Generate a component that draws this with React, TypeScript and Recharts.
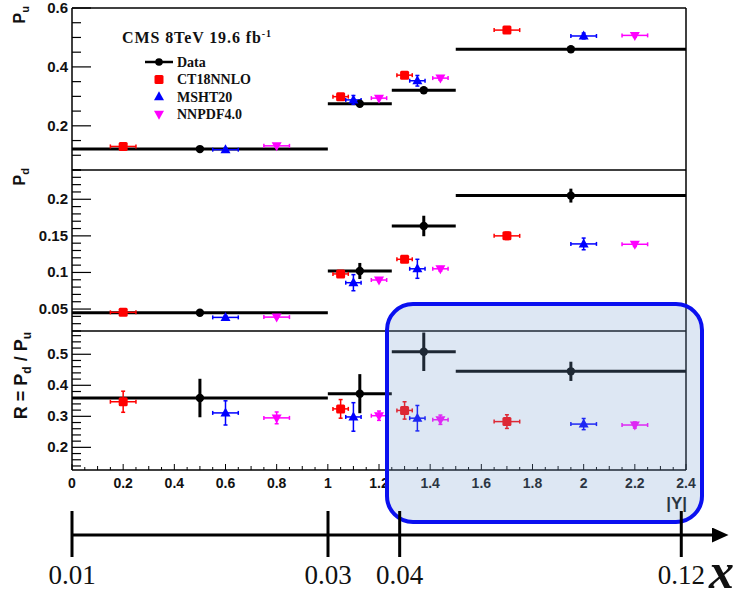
import React from 'react';
import {
  ScatterChart, Scatter, ComposedChart, XAxis, YAxis, ErrorBar,
  ReferenceLine, Legend,
} from 'recharts';

// |Y| bins of the measurement (centre, half width)
const binCenters = [0.5, 1.125, 1.375, 1.95];
const binHalfWidths = [0.5, 0.125, 0.125, 0.45];

// theory predictions are drawn side by side inside each bin
const ct18X = [0.2, 1.05, 1.3, 1.7];
const mshtX = [0.6, 1.1, 1.35, 2.0];
const nnpdfX = [0.8, 1.2, 1.44, 2.2];
const theoryHalfWidths = [0.05, 0.03, 0.03, 0.05];

// P_u
const puData = [0.121, 0.275, 0.321, 0.46];
const puDataErr = [0.003, 0.004, 0.004, 0.005];
const puCt18 = [0.13, 0.299, 0.372, 0.525];
const puCt18Err = [0.004, 0.006, 0.006, 0.007];
const puMsht = [0.119, 0.288, 0.353, 0.505];
const puMshtErr = [0.005, 0.015, 0.018, 0.01];
const puNnpdf = [0.132, 0.294, 0.362, 0.507];
const puNnpdfErr = [0.004, 0.005, 0.007, 0.006];

// P_d
const pdData = [0.045, 0.102, 0.1635, 0.205];
const pdDataErr = [0.0015, 0.011, 0.014, 0.0095];
const pdCt18 = [0.0455, 0.098, 0.118, 0.15];
const pdCt18Err = [0.002, 0.003, 0.004, 0.005];
const pdMsht = [0.0386, 0.086, 0.105, 0.139];
const pdMshtErr = [0.002, 0.011, 0.013, 0.008];
const pdNnpdf = [0.039, 0.0897, 0.105, 0.1385];
const pdNnpdfErr = [0.0015, 0.002, 0.003, 0.003];

// R = P_d / P_u
const rData = [0.359, 0.373, 0.508, 0.445];
const rDataErr = [0.062, 0.063, 0.062, 0.031];
const rCt18 = [0.347, 0.324, 0.319, 0.283];
const rCt18Err = [0.034, 0.03, 0.028, 0.022];
const rMsht = [0.311, 0.298, 0.294, 0.275];
const rMshtErr = [0.039, 0.046, 0.041, 0.018];
const rNnpdf = [0.295, 0.302, 0.289, 0.272];
const rNnpdfErr = [0.019, 0.015, 0.015, 0.01];

const seriesNames = ['Data', 'CT18NNLO', 'MSHT20', 'NNPDF4.0'];

// axis ticks
const xMajor = [0, 0.2, 0.4, 0.6, 0.8, 1, 1.2, 1.4, 1.6, 1.8, 2, 2.2, 2.4];
const puMajor = [0.2, 0.4, 0.6];
const pdMajor = [0.05, 0.1, 0.15, 0.2];
const rMajor = [0.2, 0.3, 0.4, 0.5];

// parton momentum fraction axis under the plot
const xFracLabels = ['0.01', '0.03', '0.04', '0.12'];
const xFracPos = [0, 1, 1.28, 2.38];

const SANS = '"Liberation Sans", Arial, Helvetica, sans-serif';
const SERIF = '"Liberation Serif", "Times New Roman", serif';

const range = (a: number, b: number, s: number) =>
  Array.from({ length: Math.round((b - a) / s) + 1 }, (_, i) => +(a + i * s).toFixed(3));
const onStep = (v: number, s: number) => Math.abs(v / s - Math.round(v / s)) < 1e-6;
const fmt = (v: number) => String(parseFloat(v.toFixed(3)));

const xTicks = range(0, 2.4, 0.05);
const puTicks = range(0.05, 0.6, 0.05);
const pdTicks = range(0.02, 0.24, 0.01);
const rTicks = range(0.14, 0.56, 0.02);

type Pt = { x: number; y: number; ex: number; ey: number };
const rows = (xs: number[], ys: number[], exs: number[], eys: number[]): Pt[] =>
  xs.map((x, i) => ({ x, y: ys[i], ex: exs[i], ey: eys[i] }));

const panels = {
  pu: {
    data: rows(binCenters, puData, binHalfWidths, puDataErr),
    ct18: rows(ct18X, puCt18, theoryHalfWidths, puCt18Err),
    msht: rows(mshtX, puMsht, theoryHalfWidths, puMshtErr),
    nnpdf: rows(nnpdfX, puNnpdf, theoryHalfWidths, puNnpdfErr),
  },
  pd: {
    data: rows(binCenters, pdData, binHalfWidths, pdDataErr),
    ct18: rows(ct18X, pdCt18, theoryHalfWidths, pdCt18Err),
    msht: rows(mshtX, pdMsht, theoryHalfWidths, pdMshtErr),
    nnpdf: rows(nnpdfX, pdNnpdf, theoryHalfWidths, pdNnpdfErr),
  },
  r: {
    data: rows(binCenters, rData, binHalfWidths, rDataErr),
    ct18: rows(ct18X, rCt18, theoryHalfWidths, rCt18Err),
    msht: rows(mshtX, rMsht, theoryHalfWidths, rMshtErr),
    nnpdf: rows(nnpdfX, rNnpdf, theoryHalfWidths, rNnpdfErr),
  },
};

const RED = '#ff0000';
const BLUE = '#0000ff';
const MAGENTA = '#ff00ff';

const dot = (p: any) => <circle cx={p.cx} cy={p.cy} r={4.2} fill="#000" />;
const square = (p: any) => (
  <rect x={p.cx - 4.5} y={p.cy - 4.5} width={9} height={9} rx={1.5} fill={RED} />
);
const triUp = (p: any) => (
  <path d={`M${p.cx},${p.cy - 5.5}L${p.cx + 5},${p.cy + 3.5}L${p.cx - 5},${p.cy + 3.5}Z`} fill={BLUE} />
);
const triDown = (p: any) => (
  <path d={`M${p.cx},${p.cy + 5.5}L${p.cx + 5},${p.cy - 3.5}L${p.cx - 5},${p.cy - 3.5}Z`} fill={MAGENTA} />
);

const axisLine = { stroke: '#000', strokeWidth: 1.5 };

function XTick(props: any) {
  const { x, y, payload, labelled } = props;
  const v = payload.value;
  const len = onStep(v, 0.2) ? 6 : onStep(v, 0.1) ? 4 : 3;
  return (
    <g>
      <line x1={x} x2={x} y1={y} y2={y - len} stroke="#000" strokeWidth={1} />
      {labelled && xMajor.some((m) => Math.abs(m - v) < 1e-6) && (
        <text x={x} y={y + 18} textAnchor="middle" fontFamily={SANS} fontWeight="bold" fontSize={14} fill="#111">
          {fmt(v)}
        </text>
      )}
    </g>
  );
}

function YTick(props: any) {
  const { x, y, payload, majors } = props;
  const v = payload.value;
  const major = majors.some((m: number) => Math.abs(m - v) < 1e-6);
  return (
    <g>
      <line x1={x} x2={x + (major ? 19 : 9)} y1={y} y2={y} stroke="#000" strokeWidth={1.2} />
      {major && (
        <text x={x - 4} y={y + 5} textAnchor="end" fontFamily={SANS} fontWeight="bold" fontSize={15} fill="#111">
          {fmt(v)}
        </text>
      )}
    </g>
  );
}

function RotTitle(props: any) {
  const { px, py, size, children } = props;
  return (
    <text
      transform={`translate(${px},${py}) rotate(-90)`}
      textAnchor="end"
      fontFamily={SANS}
      fontWeight="bold"
      fontSize={size}
      fill="#111"
    >
      {children}
    </text>
  );
}

function FlatText(props: any) {
  const { px, py, size, family, weight, italic, anchor, children } = props;
  return (
    <text x={px} y={py} textAnchor={anchor || 'end'} fontFamily={family} fontWeight={weight}
      fontStyle={italic ? 'italic' : 'normal'} fontSize={size} fill="#111">
      {children}
    </text>
  );
}

const legendMarks: Record<string, (cx: number, cy: number) => React.ReactNode> = {
  Data: (cx, cy) => (
    <g>
      <line x1={cx - 14} x2={cx + 14} y1={cy} y2={cy} stroke="#000" strokeWidth={2.5} />
      <circle cx={cx} cy={cy} r={3.8} fill="#000" />
    </g>
  ),
  CT18NNLO: (cx, cy) => square({ cx, cy }),
  MSHT20: (cx, cy) => triUp({ cx, cy }),
  'NNPDF4.0': (cx, cy) => triDown({ cx, cy }),
};

function LegendBox(props: any) {
  const items = [...(props.payload || [])].sort(
    (a: any, b: any) => seriesNames.indexOf(a.value) - seriesNames.indexOf(b.value),
  );
  return (
    <svg width={200} height={100}>
      <text x={22} y={18} fontFamily={SERIF} fontWeight="bold" fontSize={16} letterSpacing={0.9} fill="#111">
        CMS 8TeV 19.6 fb<tspan dy={-6} fontSize={10}>-1</tspan>
      </text>
      {items.map((it: any, i: number) => {
        const cy = 37 + i * 17.4;
        const mark = legendMarks[it.value];
        return (
          <g key={it.value}>
            {mark && mark(59, cy)}
            <text x={77} y={cy + 5} fontFamily={SERIF} fontWeight="bold" fontSize={14} fill="#111">
              {it.value}
            </text>
          </g>
        );
      })}
    </svg>
  );
}

function Panel(props: any) {
  const { top, height, mt, mb, xh, domain, yTicks, yMajors, set, title, labelled, legend, xTitle } = props;
  return (
    <div style={{ position: 'absolute', left: 0, top }}>
      <ScatterChart width={741} height={height} margin={{ top: mt, right: 55, bottom: mb, left: 12 }}>
        <XAxis
          type="number" dataKey="x" domain={[0, 2.4]} ticks={xTicks} interval={0}
          height={xh} tickSize={0} tickMargin={0} tickLine={false}
          tick={<XTick labelled={labelled} />} axisLine={axisLine} allowDataOverflow
          label={xTitle}
        />
        <YAxis
          type="number" dataKey="y" domain={domain} ticks={yTicks} interval={0}
          width={60} tickSize={0} tickMargin={0} tickLine={false}
          tick={<YTick majors={yMajors} />} axisLine={axisLine} allowDataOverflow
          label={title}
        />
        <ReferenceLine x={2.4} stroke="#000" strokeWidth={1.5} />
        <ReferenceLine y={domain[1]} stroke="#000" strokeWidth={1.5} />
        {legend && (
          <Legend
            layout="horizontal" verticalAlign="middle" align="center"
            content={LegendBox}
            wrapperStyle={{ left: 100, top: 25, width: 200, height: 100 }}
          />
        )}
        <Scatter name={seriesNames[0]} data={set.data} fill="#000" shape={dot} isAnimationActive={false}>
          <ErrorBar dataKey="ex" direction="x" width={0} stroke="#000" strokeWidth={3} />
          <ErrorBar dataKey="ey" direction="y" width={0} stroke="#000" strokeWidth={3} />
        </Scatter>
        <Scatter name={seriesNames[1]} data={set.ct18} fill={RED} shape={square} isAnimationActive={false}>
          <ErrorBar dataKey="ex" direction="x" width={2} stroke={RED} strokeWidth={1.5} />
          <ErrorBar dataKey="ey" direction="y" width={2} stroke={RED} strokeWidth={1.5} />
        </Scatter>
        <Scatter name={seriesNames[2]} data={set.msht} fill={BLUE} shape={triUp} isAnimationActive={false}>
          <ErrorBar dataKey="ex" direction="x" width={2} stroke={BLUE} strokeWidth={1.5} />
          <ErrorBar dataKey="ey" direction="y" width={2} stroke={BLUE} strokeWidth={1.5} />
        </Scatter>
        <Scatter name={seriesNames[3]} data={set.nnpdf} fill={MAGENTA} shape={triDown} isAnimationActive={false}>
          <ErrorBar dataKey="ex" direction="x" width={2} stroke={MAGENTA} strokeWidth={1.5} />
          <ErrorBar dataKey="ey" direction="y" width={2} stroke={MAGENTA} strokeWidth={1.5} />
        </Scatter>
      </ScatterChart>
    </div>
  );
}

function FracTick(props: any) {
  const { x, y, index } = props;
  return (
    <g>
      <line x1={x} x2={x} y1={y - 24} y2={y + 22} stroke="#000" strokeWidth={3} />
      <text x={x} y={y + 49} textAnchor="middle" fontFamily={SERIF} fontSize={27} fill="#111">
        {xFracLabels[index]}
      </text>
    </g>
  );
}

const fracRows = xFracPos.map((pos, i) => ({ pos, label: xFracLabels[i] }));

export default function App() {
  return (
    <div style={{ position: 'absolute', left: 0, top: 0, width: 741, height: 598, background: '#fff', overflow: 'hidden' }}>
      <Panel
        top={0} height={172} mt={8} mb={2} xh={0}
        domain={[0.05, 0.6]} yTicks={puTicks} yMajors={puMajor} set={panels.pu} legend
        title={<RotTitle px={25} py={6} size={16}>P<tspan dy={4} fontSize={11}>u</tspan></RotTitle>}
      />
      <Panel
        top={160} height={175} mt={10} mb={4} xh={0}
        domain={[0.02, 0.24]} yTicks={pdTicks} yMajors={pdMajor} set={panels.pd}
        title={<RotTitle px={25} py={8} size={16}>P<tspan dy={4} fontSize={11}>d</tspan></RotTitle>}
      />
      <Panel
        top={321} height={200} mt={10} mb={21} xh={30}
        domain={[0.127, 0.575]} yTicks={rTicks} yMajors={rMajor} set={panels.r} labelled
        title={
          <RotTitle px={27} py={11} size={18}>
            R = P<tspan dy={4} fontSize={12}>d</tspan><tspan dy={-4}> / P</tspan><tspan dy={4} fontSize={12}>u</tspan>
          </RotTitle>
        }
        xTitle={<FlatText px={687} py={188} size={17} family={SANS} weight="bold">|Y|</FlatText>}
      />
      <div
        style={{
          position: 'absolute', left: 385, top: 302, width: 319, height: 222,
          boxSizing: 'border-box', border: '4px solid #0a10f0', borderRadius: 28,
          background: 'rgba(120,160,208,0.25)', pointerEvents: 'none',
        }}
      />
      <div style={{ position: 'absolute', left: 0, top: 490 }}>
        <ComposedChart width={741} height={108} data={fracRows} margin={{ top: 0, right: 29, bottom: 0, left: 72 }}>
          <defs>
            <marker id="fracArrow" markerWidth={5.5} markerHeight={5} refX={0} refY={2.5} orient="auto" markerUnits="strokeWidth">
              <path d="M0,0L5.5,2.5L0,5Z" fill="#000" />
            </marker>
          </defs>
          <XAxis
            type="number" dataKey="pos" domain={[0, 2.5]} ticks={xFracPos} interval={0}
            height={63} tickSize={0} tickMargin={0} tickLine={false} tick={<FracTick />}
            axisLine={{ stroke: '#000', strokeWidth: 3, markerEnd: 'url(#fracArrow)' }}
            allowDataOverflow
            label={<FlatText px={709} py={98} size={50} family={SERIF} weight="bold" italic anchor="start">x</FlatText>}
          />
          <YAxis hide domain={[0, 1]} />
        </ComposedChart>
      </div>
    </div>
  );
}
